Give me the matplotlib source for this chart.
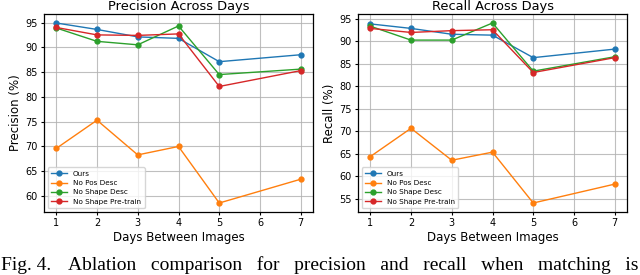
import matplotlib
matplotlib.use("Agg")
import matplotlib.pyplot as plt

days = [1, 2, 3, 4, 5, 7]
xticks = [1, 2, 3, 4, 5, 6, 7]
labels = ["Ours", "No Pos Desc", "No Shape Desc", "No Shape Pre-train"]
colors = ["#1f77b4", "#ff7f0e", "#2ca02c", "#d62728"]

prec_ours = [94.9, 93.6, 92.1, 91.8, 87.1, 88.5]
prec_nopos = [69.6, 75.3, 68.3, 70.0, 58.6, 63.4]
prec_noshape = [93.9, 91.2, 90.5, 94.3, 84.5, 85.6]
prec_nopretrain = [94.0, 92.5, 92.4, 92.7, 82.1, 85.3]

rec_ours = [93.9, 92.9, 91.6, 91.4, 86.4, 88.3]
rec_nopos = [64.4, 70.7, 63.6, 65.4, 54.1, 58.3]
rec_noshape = [93.4, 90.3, 90.3, 94.1, 83.4, 86.6]
rec_nopretrain = [92.9, 92.0, 92.4, 92.6, 83.1, 86.4]

fig = plt.figure(figsize=(6.4, 2.75), dpi=100)
ax1 = fig.add_axes([44/640, 1-212/275, (313-44)/640, (212-14)/275])
ax2 = fig.add_axes([358/640, 1-212/275, (627-358)/640, (212-14)/275])

panels = [
    (ax1, [prec_ours, prec_nopos, prec_noshape, prec_nopretrain], "Precision Across Days", "Precision (%)"),
    (ax2, [rec_ours, rec_nopos, rec_noshape, rec_nopretrain], "Recall Across Days", "Recall (%)"),
]

for ax, series, title, ylabel in panels:
    for vals, lab, col in zip(series, labels, colors):
        ax.plot(days, vals, marker="o", markersize=3.5, linewidth=1.0, color=col, label=lab)
    ax.set_title(title, fontsize=9.4, pad=3)
    ax.set_xlabel("Days Between Images", fontsize=8.5, labelpad=2)
    ax.set_ylabel(ylabel, fontsize=8.5, labelpad=2)
    ax.set_xticks(xticks)
    ax.tick_params(labelsize=7, length=2.5, pad=2)
    ax.grid(True, color="#b0b0b0", linewidth=0.8, alpha=0.8)
    for s in ax.spines.values():
        s.set_linewidth(0.9)
    ax.legend(loc="lower left", fontsize=5.2, handlelength=2.2, borderpad=0.5,
              labelspacing=0.45, framealpha=0.8)

fig.text(1/640, 1/275, "Fig. 4.", fontsize=14, family="Liberation Serif", va="bottom", ha="left")
fig.text(639/640, 1/275, "Ablation   comparison   for   precision   and   recall   when   matching   is",
         fontsize=14, family="Liberation Serif", va="bottom", ha="right")

fig.savefig("out.png", dpi=100)
